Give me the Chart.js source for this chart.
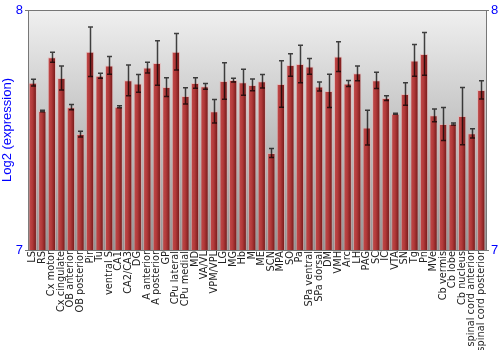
<!DOCTYPE html>
<html>
<head>
<meta charset="utf-8">
<script src="https://cdn.jsdelivr.net/npm/chart.js@4/dist/chart.umd.min.js"></script>
<style>
  html, body { margin: 0; padding: 0; background: #fff; }
  #wrap { width: 500px; height: 350px; }
</style>
</head>
<body>
<div id="wrap"><canvas id="chart"></canvas></div>
<script>
// regions, as on the x axis
const regions = [
  'LS', 'RS', 'Cx motor', 'Cx cingulate', 'OB anterior', 'OB posterior', 'Pir', 'Tu',
  'ventral S', 'CA1', 'CA2/CA3', 'DG', 'A anterior', 'A posterior', 'GP', 'CPu lateral',
  'CPu medial', 'MD', 'VA/VL', 'VPM/VPL', 'LG', 'MG', 'Hb', 'M',
  'ME', 'SCN', 'MPA', 'SO', 'Pa', 'SPa ventral', 'SPa dorsal', 'DM',
  'VMH', 'Arc', 'LH', 'PAG', 'SC', 'IC', 'VTA', 'SN',
  'Tg', 'Pn', 'MVe', 'Cb vermis', 'Cb lobe', 'Cb nucleus', 'spinal cord anterior', 'spinal cord posterior'
];

// log2 expression
const expression = [
  7.697, 7.579, 7.803, 7.717, 7.595, 7.483, 7.826, 7.726,
  7.769, 7.597, 7.707, 7.694, 7.760, 7.779, 7.679, 7.826,
  7.642, 7.696, 7.682, 7.578, 7.704, 7.708, 7.699, 7.688,
  7.703, 7.404, 7.692, 7.771, 7.775, 7.765, 7.681, 7.663,
  7.806, 7.694, 7.736, 7.510, 7.707, 7.633, 7.568, 7.650,
  7.790, 7.817, 7.561, 7.525, 7.525, 7.558, 7.486, 7.667
];

// error (+/-)
const expressionErr = [
  0.014, 0.003, 0.021, 0.050, 0.011, 0.012, 0.103, 0.010,
  0.037, 0.004, 0.064, 0.037, 0.022, 0.093, 0.039, 0.076,
  0.034, 0.022, 0.012, 0.049, 0.076, 0.008, 0.054, 0.024,
  0.028, 0.019, 0.097, 0.047, 0.078, 0.033, 0.019, 0.069,
  0.062, 0.0125, 0.031, 0.072, 0.034, 0.010, 0.002, 0.047,
  0.066, 0.089, 0.027, 0.069, 0.004, 0.119, 0.019, 0.038
];

const yMin = 7;
const yMax = 8;

const barPct = 0.87;
const blue = '#0000ff';

function barGradient(ctx) {
  const chart = ctx.chart;
  if (!chart.chartArea) return '#a83434';
  const xs = chart.scales.x;
  const cx = xs.getPixelForValue(ctx.dataIndex);
  const half = (xs.width / regions.length) * barPct / 2;
  const g = chart.ctx.createLinearGradient(cx - half, 0, cx + half, 0);
  g.addColorStop(0, '#c44c4c');
  g.addColorStop(0.45, '#b23a3a');
  g.addColorStop(1, '#6c1414');
  return g;
}

const bgPlugin = {
  id: 'bgGradient',
  beforeDraw(chart) {
    const { ctx, chartArea: a } = chart;
    const g = ctx.createLinearGradient(0, a.top, 0, a.bottom);
    g.addColorStop(0, '#f0f0f0');
    g.addColorStop(1, '#929292');
    ctx.save();
    ctx.fillStyle = g;
    ctx.fillRect(a.left, a.top, a.right - a.left, a.bottom - a.top);
    ctx.restore();
  }
};

const errPlugin = {
  id: 'errorBars',
  afterDatasetsDraw(chart) {
    const { ctx } = chart;
    const ys = chart.scales.y;
    const meta = chart.getDatasetMeta(0);
    ctx.save();
    ctx.strokeStyle = 'rgba(0,0,0,0.72)';
    ctx.lineWidth = 1.5;
    meta.data.forEach((bar, i) => {
      const x = Math.round(bar.x) + 0.5;
      const hi = ys.getPixelForValue(expression[i] + expressionErr[i]);
      const lo = ys.getPixelForValue(expression[i] - expressionErr[i]);
      ctx.beginPath();
      ctx.moveTo(x, hi); ctx.lineTo(x, lo);
      ctx.moveTo(x - 2.5, hi); ctx.lineTo(x + 2.5, hi);
      ctx.moveTo(x - 2.5, lo); ctx.lineTo(x + 2.5, lo);
      ctx.stroke();
    });
    ctx.restore();
  }
};

new Chart(document.getElementById('chart'), {
  type: 'bar',
  data: {
    labels: regions,
    datasets: [{
      data: expression,
      backgroundColor: barGradient,
      borderColor: 'rgba(235,175,175,0.55)',
      borderWidth: 1,
      categoryPercentage: 1,
      barPercentage: barPct
    }]
  },
  options: {
    responsive: true,
    maintainAspectRatio: false,
    animation: false,
    layout: { padding: { top: 10, left: 0, right: 0, bottom: 0 } },
    plugins: {
      legend: { display: false },
      tooltip: { enabled: false }
    },
    scales: {
      x: {
        grid: { display: false, drawTicks: false },
        border: { display: false },
        ticks: {
          autoSkip: false,
          minRotation: 90,
          maxRotation: 90,
          padding: 1,
          color: '#222',
          font: { family: 'DejaVu Sans', size: 9.8 }
        },
        afterFit(s) { s.height = 100; }
      },
      y: {
        min: yMin,
        max: yMax,
        position: 'left',
        grid: { color: '#777', tickLength: 3, drawOnChartArea: true },
        border: { color: '#777' },
        ticks: {
          stepSize: 1,
          padding: 2,
          color: blue,
          font: { family: 'Liberation Sans', size: 13 }
        },
        title: {
          display: true,
          text: 'Log2 (expression)',
          color: blue,
          padding: { top: 0, bottom: 1 },
          font: { family: 'Liberation Sans', size: 13 }
        },
        afterFit(s) { s.width = 28; }
      },
      y2: {
        min: yMin,
        max: yMax,
        position: 'right',
        grid: { drawOnChartArea: false, color: '#777', tickLength: 3 },
        border: { color: '#777' },
        ticks: {
          stepSize: 1,
          padding: 2,
          color: blue,
          font: { family: 'Liberation Sans', size: 13 }
        },
        afterFit(s) { s.width = 14; }
      }
    }
  },
  plugins: [bgPlugin, errPlugin]
});
</script>
</body>
</html>
